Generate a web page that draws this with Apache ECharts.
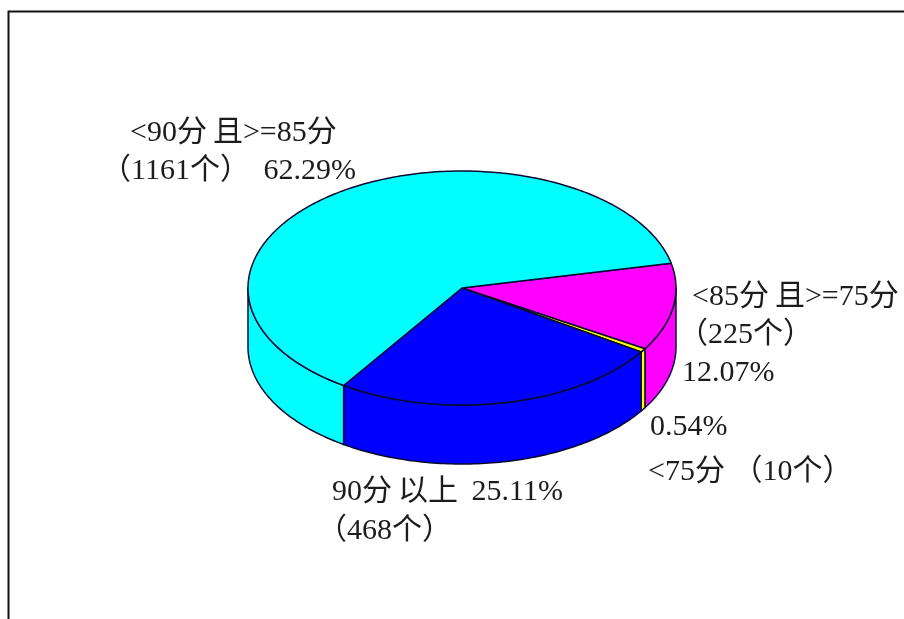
<!DOCTYPE html>
<html>
<head>
<meta charset="utf-8">
<style>html,body{margin:0;padding:0;background:#fff}#c{width:904px;height:619px}</style>
<script src="https://cdn.jsdelivr.net/npm/echarts@6/dist/echarts.min.js"></script>
</head>
<body>
<div id="c"></div>
<script>
// data, clockwise from the start angle
var categories = ['<85分且>=75分', '<75分', '90分以上', '<90分且>=85分'];
var counts = [225, 10, 468, 1161];
var percents = [12.07, 0.54, 25.11, 62.29];
var colors = ['#ff00ff', '#ffff00', '#0000ff', '#00ffff'];

// label text
var labelLines = [
  ['<90分\u2009且>=85分', 130, 133],
  ['（1161个） \u200962.29%', 101, 171],
  ['<85分\u2009且>=75分', 692, 297],
  ['（225个）', 678, 335],
  ['12.07%', 682, 373],
  ['0.54%', 650, 427],
  ['<75分 （10个）', 648, 472],
  ['90分\u2009以上 \u200925.11%', 332, 492],
  ['（468个）', 317, 531]
];

var PIE = {cx: 462, cy: 288, rx: 214, ry: 117, depth: 59, start: -12.2};
var RAD = Math.PI / 180;
var EDGE = {stroke: '#0a0a30', lineWidth: 1.5, lineJoin: 'round'};

function pt(deg, dy) {
  return [PIE.cx + PIE.rx * Math.cos(deg * RAD), PIE.cy + PIE.ry * Math.sin(deg * RAD) + (dy || 0)];
}
function arc(a, b, dy) {
  var out = [], n = Math.max(1, Math.ceil(Math.abs(b - a)));
  for (var i = 0; i <= n; i++) out.push(pt(a + (b - a) * i / n, dy));
  return out;
}
function renderSlice(params, api) {
  var idx = params.dataIndex, before = 0;
  for (var i = 0; i < idx; i++) before += percents[i];
  var a = PIE.start + before * 3.6;
  var b = a + api.value(0) * 3.6;
  var children = [];
  var sa = Math.max(a, 0), sb = Math.min(b, 180);
  if (sb > sa) {
    children.push({
      type: 'polygon',
      shape: {points: arc(sa, sb, 0).concat(arc(sb, sa, PIE.depth))},
      style: Object.assign({fill: colors[idx]}, EDGE)
    });
  }
  children.push({
    type: 'polygon',
    shape: {points: [[PIE.cx, PIE.cy]].concat(arc(a, b, 0))},
    style: Object.assign({fill: colors[idx]}, EDGE)
  });
  return {type: 'group', children: children};
}

var textEls = labelLines.map(function (l) {
  return {
    type: 'text', x: l[1], y: l[2],
    style: {
      text: l[0], fill: '#1c1c1c',
      font: '30px "Liberation Serif","Noto Sans CJK SC",serif',
      textAlign: 'left', textVerticalAlign: 'middle'
    }
  };
});
var borderEl = {
  type: 'polyline',
  shape: {points: [[8.5, 619], [8.5, 11.5], [904, 11.5]]},
  style: {stroke: '#111', lineWidth: 2, fill: null}
};

var chart = echarts.init(document.getElementById('c'), null, {renderer: 'canvas'});
chart.setOption({
  animation: false,
  backgroundColor: '#fff',
  graphic: {elements: [borderEl].concat(textEls)},
  series: [{
    type: 'custom',
    coordinateSystem: 'none',
    renderItem: renderSlice,
    silent: true,
    data: categories.map(function (c, i) {
      return {name: c, value: [percents[i], counts[i]]};
    })
  }]
});
</script>
</body>
</html>
